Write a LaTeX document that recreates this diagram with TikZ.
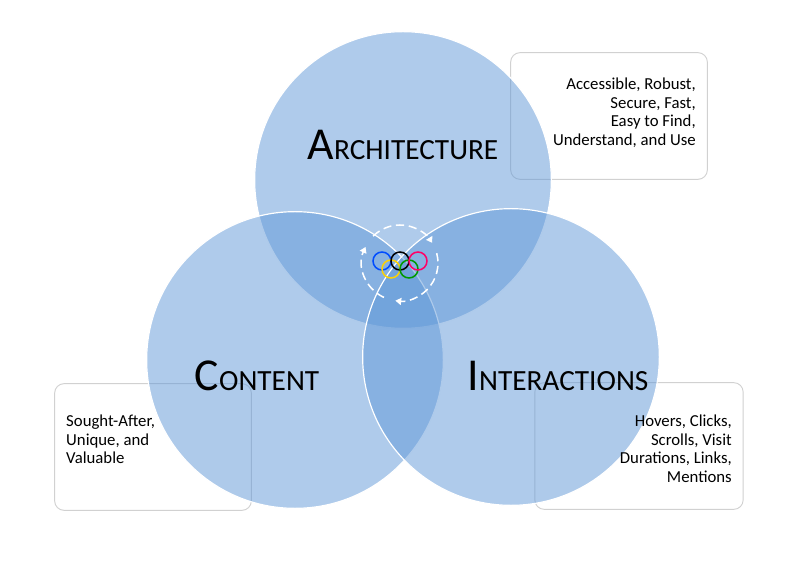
\documentclass[tikz,border=0pt]{standalone}
\usepackage{fontspec}
\setmainfont{Carlito}
\usetikzlibrary{arrows.meta}
\definecolor{venn}{RGB}{95,151,215}
\tikzset{
  infobox/.style={draw=black!18, fill=white, rounded corners=8pt, line width=0.8pt, inner sep=0pt},
  venncircle/.style={circle, fill=venn, fill opacity=0.5, draw=white, line width=1pt, inner sep=0pt, minimum size=8.9cm},
  infotext/.style={font=\fontsize{14.3}{15.8}\selectfont, inner sep=0pt},
  cycle/.style={white, line width=1.3pt, dash pattern=on 7pt off 4pt},
  ring/.style={line width=1.3pt}
}
\begin{document}
\begin{tikzpicture}[x=0.03cm,y=-0.03cm]
    \useasboundingbox (0,0) rectangle (800,568);

    % Boxes
    \node[infobox, minimum width=5.9cm, minimum height=3.8cm] (archbox) at (609,116) {};
    \node[infobox, minimum width=5.9cm, minimum height=3.8cm] (contbox) at (153,447) {};
    \node[infobox, minimum width=6.25cm, minimum height=3.8cm] (interbox) at (639,446) {};

    % Circles
    \node[venncircle] (arch) at (403,180) {};
    \node[venncircle] (cont) at (295,360) {};
    \node[venncircle] (inter) at (511,357) {};

    % Titles
    \node[inner sep=0pt] (archtitle) at (403,145) {\fontsize{39}{39}\selectfont A\fontsize{25}{25}\selectfont RCHITECTURE};
    \node[inner sep=0pt] (conttitle) at (257,376) {\fontsize{39}{39}\selectfont C\fontsize{25}{25}\selectfont ONTENT};
    \node[inner sep=0pt] (intertitle) at (558,376) {\fontsize{39}{39}\selectfont I\fontsize{25}{25}\selectfont NTERACTIONS};

    % Box texts
    \node[infotext, align=right, anchor=north east] (archtext) at (696,78)
        {Accessible, Robust,\\Secure, Fast,\\Easy to Find,\\Understand, and Use};
    \node[infotext, align=left, anchor=north west] (conttext) at (66,415)
        {Sought-After,\\Unique, and\\Valuable};
    \node[infotext, align=right, anchor=north east] (intertext) at (732,415)
        {Hovers, Clicks,\\Scrolls, Visit\\Durations, Links,\\Mentions};

    % Cycle
    \coordinate (hub) at (400,263);
    \draw[cycle, -{Triangle[length=5pt,width=6pt]}]
        (hub) ++(115:38) arc[start angle=115, end angle=205, radius=38];
    \draw[cycle, -{Triangle[length=5pt,width=6pt]}]
        (hub) ++(225:38) arc[start angle=225, end angle=328, radius=38];
    \draw[cycle, -{Triangle[length=5pt,width=6pt]}]
        (hub) ++(-15:38) arc[start angle=-15, end angle=97, radius=38];

    % Rings
    \draw[ring, blue!70!cyan] (382,261) circle (9);
    \draw[ring, yellow!70!orange] (391,269) circle (9);
    \draw[ring, black] (400,261) circle (9);
    \draw[ring, green!60!black] (409,269) circle (9);
    \draw[ring, red!60!magenta] (418,261) circle (9);
\end{tikzpicture}
\end{document}
